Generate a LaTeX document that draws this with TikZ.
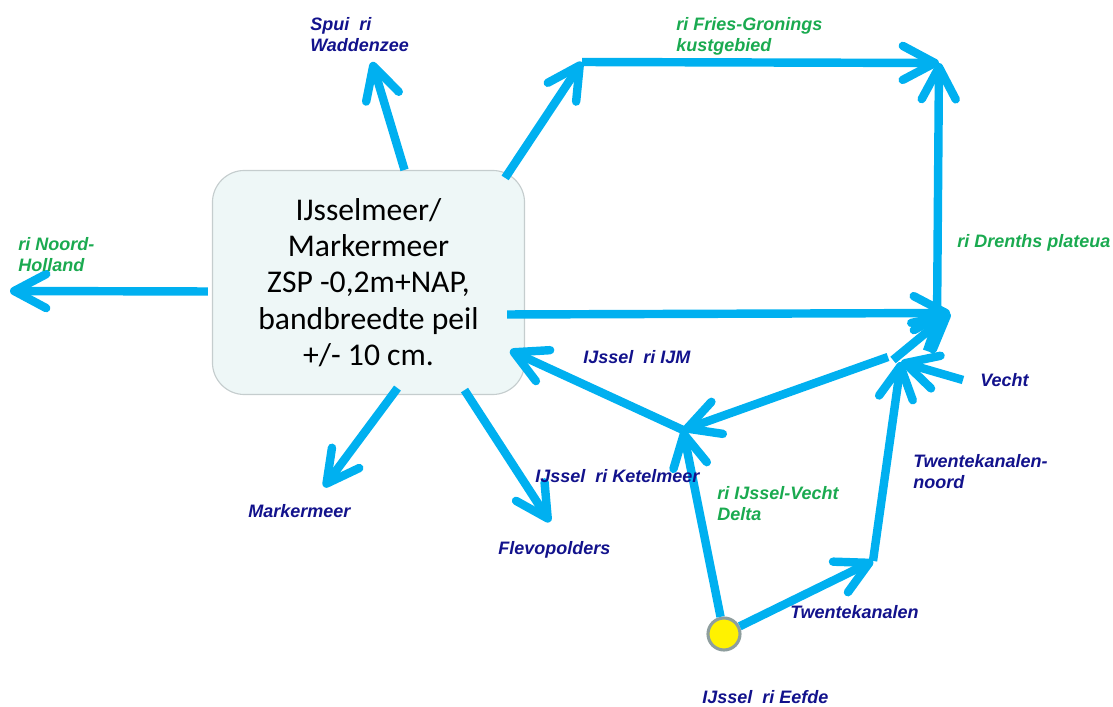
\documentclass[tikz,border=0pt]{standalone}
\usepackage{fontspec}
\setmainfont{Liberation Sans}
\newfontfamily\boxfont{Carlito}
\usetikzlibrary{arrows.meta, positioning}
\definecolor{cflow}{HTML}{00B0F0}
\definecolor{cnavy}{HTML}{12128C}
\definecolor{cgreen}{HTML}{1AAA50}
\definecolor{cboxfill}{HTML}{EEF7F7}
\definecolor{cboxline}{HTML}{C5CDCE}
\definecolor{cring}{HTML}{8E9E9E}
\tikzset{
  flow/.style={draw=cflow, line width=6pt, -{Straight Barb[length=8mm, width=8.5mm, round]}},
  lbl/.style={font=\fontsize{12.8}{15}\selectfont\bfseries\itshape, text=cnavy, anchor=base west, inner sep=0pt, align=left},
  lblg/.style={lbl, text=cgreen},
  meer/.style={draw=cboxline, line width=0.8pt, fill=cboxfill, rounded corners=0.8cm, align=center,
    font=\boxfont\fontsize{22.5}{25.8}\selectfont, minimum width=7.8cm, minimum height=5.6cm, inner sep=0pt},
  bron/.style={circle, draw=cring, line width=2.2pt, fill=yellow, minimum size=0.8cm, inner sep=0pt},
}

\begin{document}
\begin{tikzpicture}[x=0.025cm, y=-0.025cm]
  \useasboundingbox (0,0) rectangle (1113,707);
  % lake and source
  \node[meer] (ijm) at (368.5,282.5) {IJsselmeer/\\Markermeer\\ZSP -0,2m+NAP,\\bandbreedte peil\\+/- 10 cm.};
  \node[bron] (eefde) at (724,634) {};
  % junctions and free ends
  \coordinate (nh) at (10,291);
  \coordinate (spui) at (372,62);
  \coordinate (fgknik) at (582,62);
  \coordinate (fg) at (939,63);
  \coordinate (dj) at (950,313);
  \coordinate (drvoet) at (927,351);
  \coordinate (drknik) at (937,322);
  \coordinate (vj) at (901,362);
  \coordinate (vecht) at (963,380);
  \coordinate (tk) at (873,561);
  \coordinate (ketel) at (683,430);
  \coordinate (mm) at (324,487);
  \coordinate (flevo) at (550,522);
  % outflows from the lake
  \draw[flow] ([shift={(-4,9)}]ijm.west) -- (nh);
  \draw[flow] ([shift={(36,0)}]ijm.north) -- (spui);
  \draw[flow] ([shift={(-20,8)}]ijm.north east) -- (fgknik);
  \draw[flow] (fgknik) -- (fg);
  \draw[flow] ([shift={(-18,32)}]ijm.east) -- (dj);
  \draw[flow] ([shift={(29,-7)}]ijm.south) -- (mm);
  \draw[flow] ([shift={(96,-5)}]ijm.south) -- (flevo);
  % inflows
  \draw[flow] (drvoet) -- (drknik) -- (fg);
  \draw[flow] ([shift={(-8,-2)}]vj) -- (dj);
  \draw[flow] (vecht) -- (vj);
  \draw[flow] (tk) -- (vj);
  \draw[flow] ([shift={(-13,-5)}]vj) -- (ketel);
  \draw[flow] (eefde) -- (ketel);
  \draw[flow] (eefde) -- (tk);
  \draw[flow] (ketel) -- ([shift={(-15,68)}]ijm.east);
  % labels (two-line labels sit on their last line)
  \node[lbl] (lspui) at (310,52) {Spui~~ri\\Waddenzee};
  \node[lblg] (lfg) at (676,52) {ri Fries-Gronings\\kustgebied};
  \node[lblg] (lnh) at (18,272) {ri Noord-\\Holland};
  \node[lblg] (ldr) at (957,248) {ri Drenths plateua};
  \node[lbl] (lijm) at (583,364) {IJssel~~ri IJM};
  \node[lbl] (lvecht) at (980,387) {Vecht};
  \node[lbl] (ltkn) at (913,489) {Twentekanalen-\\noord};
  \node[lbl] (lketel) at (535,483) {IJssel~~ri Ketelmeer};
  \node[lblg] (ldelta) at (717,521) {ri IJssel-Vecht\\Delta};
  \node[lbl] (lmm) at (248,518) {Markermeer};
  \node[lbl] (lflevo) at (498,555) {Flevopolders};
  \node[lbl] (ltk) at (790,619) {Twentekanalen};
  \node[lbl] (leefde) at (702,704) {IJssel~~ri Eefde};
\end{tikzpicture}
\end{document}
